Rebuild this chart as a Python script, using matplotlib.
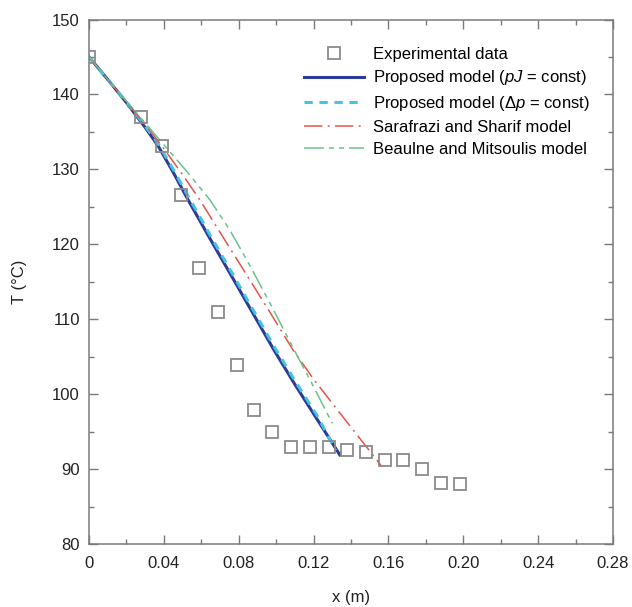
import numpy as np
import matplotlib
matplotlib.use("Agg")
import matplotlib.pyplot as plt
from matplotlib.ticker import MultipleLocator, FixedLocator

plt.rcParams['font.family'] = ['Liberation Sans', 'DejaVu Sans']
plt.rcParams['mathtext.fontset'] = 'custom'
plt.rcParams['mathtext.it'] = 'Liberation Sans:italic'
plt.rcParams['mathtext.rm'] = 'Liberation Sans'

# experimental data
x_exp = [0.0, 0.028, 0.039, 0.049, 0.059, 0.069, 0.079, 0.088, 0.098, 0.108,
         0.118, 0.128, 0.138, 0.148, 0.158, 0.168, 0.178, 0.188, 0.198]
T_exp = [145.0, 137.0, 133.1, 126.6, 116.8, 111.0, 103.9, 97.9, 94.9, 92.9,
         92.9, 92.9, 92.6, 92.3, 91.2, 91.2, 90.0, 88.1, 88.0]

# proposed model (pJ = const)
x_pj = [0.0, 0.01, 0.02, 0.03, 0.037, 0.045, 0.053, 0.065, 0.08, 0.0988, 0.11, 0.122, 0.134]
T_pj = [145.0, 142.0, 138.9, 135.6, 133.1, 129.6, 125.9, 120.6, 114.1, 105.9, 101.3, 96.6, 91.9]

# proposed model (dp = const)
x_dp = [0.0, 0.01, 0.02, 0.03, 0.037, 0.045, 0.053, 0.065, 0.08, 0.0988, 0.11, 0.122, 0.1318]
T_dp = [145.0, 142.0, 139.0, 135.8, 133.4, 130.0, 126.4, 121.1, 114.6, 106.4, 101.8, 97.1, 92.5]

# Sarafrazi and Sharif
x_ss = [0.0, 0.01, 0.02, 0.03, 0.039, 0.05, 0.0593, 0.07, 0.085, 0.097, 0.109, 0.12, 0.134, 0.145, 0.1566]
T_ss = [145.0, 142.0, 139.0, 136.0, 133.1, 129.3, 125.9, 121.6, 115.6, 110.8, 105.9, 102.0, 97.5, 94.0, 90.3]

# Beaulne and Mitsoulis
x_bm = [0.0, 0.01, 0.02, 0.03, 0.0406, 0.052, 0.0647, 0.075, 0.085, 0.097, 0.109, 0.12, 0.13]
T_bm = [145.0, 142.0, 139.1, 136.2, 133.1, 129.8, 125.9, 122.0, 117.6, 112.0, 106.2, 101.0, 96.1]

xticks = [0, 0.04, 0.08, 0.12, 0.16, 0.20, 0.24, 0.28]
xticklabels = ['0', '0.04', '0.08', '0.12', '0.16', '0.20', '0.24', '0.28']
yticks = [80, 90, 100, 110, 120, 130, 140, 150]

fig = plt.figure(figsize=(6.32, 6.07), dpi=100)
ax = fig.add_axes([89 / 632, 1 - 544 / 607, 524 / 632, 524.5 / 607])

ax.plot(x_exp, T_exp, ls='none', marker='s', ms=8.8, mfc='none', mec='#8a8a8a',
        mew=1.3, label='Experimental data', zorder=4)
ax.plot(x_pj, T_pj, color='#2b3c98', lw=2.2, label='Proposed model ($pJ$ = const)')
ax.plot(x_dp, T_dp, color='#45c3e0', lw=2.2, ls=(0, (2.7, 2.2)),
        label='Proposed model (Δ$p$ = const)')
ax.plot(x_ss, T_ss, color='#e8534a', lw=1.1, ls=(0, (12, 3.5, 1.3, 3.5)),
        label='Sarafrazi and Sharif model')
ax.plot(x_bm, T_bm, color='#6cc28a', lw=1.1, ls=(0, (13, 3.3, 3.3, 3.3, 3.3, 3.3)),
        label='Beaulne and Mitsoulis model')

ax.set_xlim(0, 0.28)
ax.set_ylim(80, 150)
ax.xaxis.set_major_locator(FixedLocator(xticks))
ax.set_xticklabels(xticklabels)
ax.xaxis.set_minor_locator(MultipleLocator(0.02))
ax.yaxis.set_major_locator(FixedLocator(yticks))
ax.yaxis.set_minor_locator(MultipleLocator(5))

for s in ax.spines.values():
    s.set_color('#7a7a7a')
    s.set_linewidth(1.1)
ax.tick_params(which='both', direction='in', top=True, right=True,
               color='#7a7a7a', width=1.0, labelsize=12, labelcolor='#222222')
ax.tick_params(which='major', length=6.5)
ax.tick_params(which='minor', length=3.5)
ax.tick_params(axis='x', pad=9)
ax.tick_params(axis='y', pad=6.5)

ax.set_xlabel('x (m)', fontsize=12, labelpad=13, color='#222222')
ax.set_ylabel('T (°C)', fontsize=12, labelpad=18, color='#222222')

ax.legend(loc='upper left', bbox_to_anchor=(0.398, 0.961), borderaxespad=0,
          frameon=False, fontsize=12, handlelength=3.6, handletextpad=0.55,
          labelspacing=0.41)

fig.savefig('out.png', dpi=100)
